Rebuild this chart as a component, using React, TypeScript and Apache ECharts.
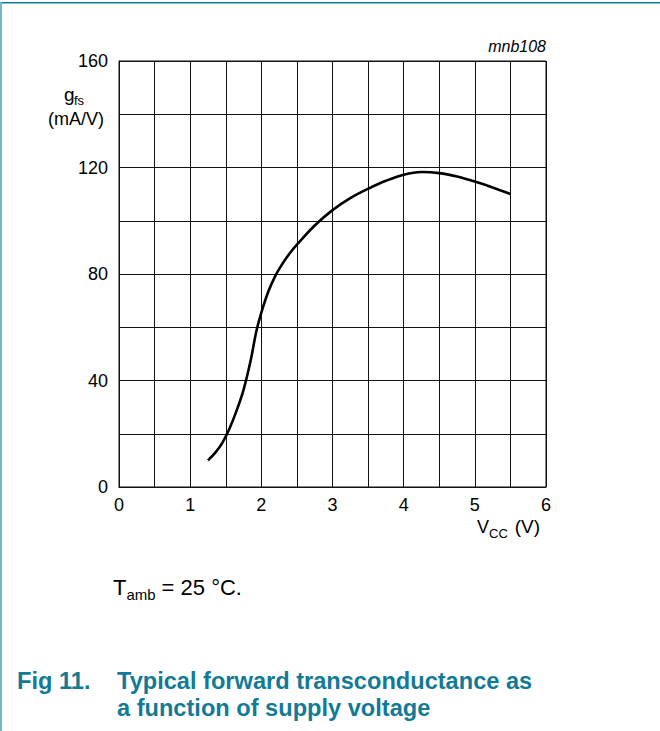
import React, { useEffect, useRef } from "react";
import * as echarts from "echarts";

// Curve (V_CC in V, g_fs in mA/V)
const vcc = [1.25, 1.35, 1.45, 1.55, 1.65, 1.75, 1.85, 1.93, 2.0, 2.1, 2.2, 2.3, 2.4, 2.5, 2.75, 3.0, 3.25, 3.5, 3.75, 4.0, 4.25, 4.5, 4.75, 5.0, 5.25, 5.5];
const gfs = [10, 12.8, 16.5, 21.8, 28.5, 36.5, 47.5, 58.5, 65.5, 73.5, 79.5, 84, 87.8, 91, 98.2, 104, 108.5, 112, 115, 117.3, 118.3, 117.9, 116.6, 114.7, 112.5, 110];

const xMin = 0, xMax = 6, xStep = 0.5;
const yMin = 0, yMax = 160, yStep = 20, yLabelStep = 40;

const FONT = "'Liberation Sans', Arial, Helvetica, sans-serif";
const TEAL = "#137a96";

export default function App() {
  const ref = useRef<HTMLDivElement>(null);
  useEffect(() => {
    if (!ref.current) return;
    const chart = echarts.init(ref.current, undefined, { renderer: "svg" });
    const mid = (baseline: number, size: number) => baseline - 0.3465 * size;
    chart.setOption({
      animation: false,
      backgroundColor: "#fff",
      grid: { left: 119, top: 61, width: 427, height: 426, show: true, borderColor: "#111", borderWidth: 1 },
      xAxis: {
        type: "value", min: xMin, max: xMax, interval: xStep,
        axisLine: { show: true, lineStyle: { color: "#111", width: 1 } },
        axisTick: { show: false },
        splitLine: { show: true, lineStyle: { color: "#111", width: 1 } },
        axisLabel: {
          color: "#000", fontFamily: FONT, fontSize: 18, margin: 9,
          showMinLabel: true, showMaxLabel: true,
          formatter: (v: number) => (Math.abs(v - Math.round(v)) < 1e-9 ? String(Math.round(v)) : ""),
        },
      },
      yAxis: {
        type: "value", min: yMin, max: yMax, interval: yStep,
        axisLine: { show: true, lineStyle: { color: "#111", width: 1 } },
        axisTick: { show: false },
        splitLine: { show: true, lineStyle: { color: "#111", width: 1 } },
        axisLabel: {
          color: "#000", fontFamily: FONT, fontSize: 18, margin: 11,
          showMinLabel: true, showMaxLabel: true,
          formatter: (v: number) => (Math.round(v) % yLabelStep === 0 ? String(Math.round(v)) : ""),
        },
      },
      series: [
        {
          type: "line",
          data: vcc.map((x, i) => [x, gfs[i]]),
          smooth: 0.35,
          showSymbol: false,
          lineStyle: { color: "#000", width: 2.6 },
          silent: true,
        },
      ],
      graphic: [
        { type: "rect", shape: { x: 0, y: 2, width: 660, height: 1.6 }, style: { fill: "#0a7d99" } },
        { type: "rect", shape: { x: 0, y: 2, width: 2, height: 729 }, style: { fill: "#76b5c7" } },
        { type: "text", x: 546, y: mid(52, 16), style: { text: "mnb108", font: `italic 16px ${FONT}`, fill: "#000", align: "right", verticalAlign: "middle" } },
        { type: "text", x: 64, y: mid(101, 19), style: { text: "g", font: `19px ${FONT}`, fill: "#000", align: "left", verticalAlign: "middle" } },
        { type: "text", x: 74, y: mid(105, 13), style: { text: "fs", font: `13px ${FONT}`, fill: "#000", align: "left", verticalAlign: "middle" } },
        { type: "text", x: 76, y: mid(125, 18), style: { text: "(mA/V)", font: `18px ${FONT}`, fill: "#000", align: "center", verticalAlign: "middle" } },
        { type: "text", x: 477, y: mid(533, 18), style: { text: "V", font: `18px ${FONT}`, fill: "#000", align: "left", verticalAlign: "middle" } },
        { type: "text", x: 489, y: mid(538, 13), style: { text: "CC", font: `13px ${FONT}`, fill: "#000", align: "left", verticalAlign: "middle" } },
        { type: "text", x: 540, y: mid(533, 19), style: { text: "(V)", font: `19px ${FONT}`, fill: "#000", align: "right", verticalAlign: "middle" } },
        { type: "text", x: 113, y: mid(595, 22), style: { text: "T", font: `22px ${FONT}`, fill: "#000", align: "left", verticalAlign: "middle" } },
        { type: "text", x: 126.5, y: mid(600, 15), style: { text: "amb", font: `15px ${FONT}`, fill: "#000", align: "left", verticalAlign: "middle" } },
        { type: "text", x: 155.5, y: mid(595, 22), style: { text: " = 25 °C.", font: `22px ${FONT}`, fill: "#000", align: "left", verticalAlign: "middle" } },
        { type: "text", x: 17, y: mid(689, 23.6), style: { text: "Fig 11.", font: `bold 23.6px ${FONT}`, fill: TEAL, align: "left", verticalAlign: "middle" } },
        { type: "text", x: 117, y: mid(689, 23.6), style: { text: "Typical forward transconductance as", font: `bold 23.6px ${FONT}`, fill: TEAL, align: "left", verticalAlign: "middle" } },
        { type: "text", x: 117, y: mid(716, 23.6), style: { text: "a function of supply voltage", font: `bold 23.6px ${FONT}`, fill: TEAL, align: "left", verticalAlign: "middle" } },
      ],
    });
    return () => chart.dispose();
  }, []);
  return <div ref={ref} style={{ position: "absolute", left: 0, top: 0, width: 660, height: 731 }} />;
}
